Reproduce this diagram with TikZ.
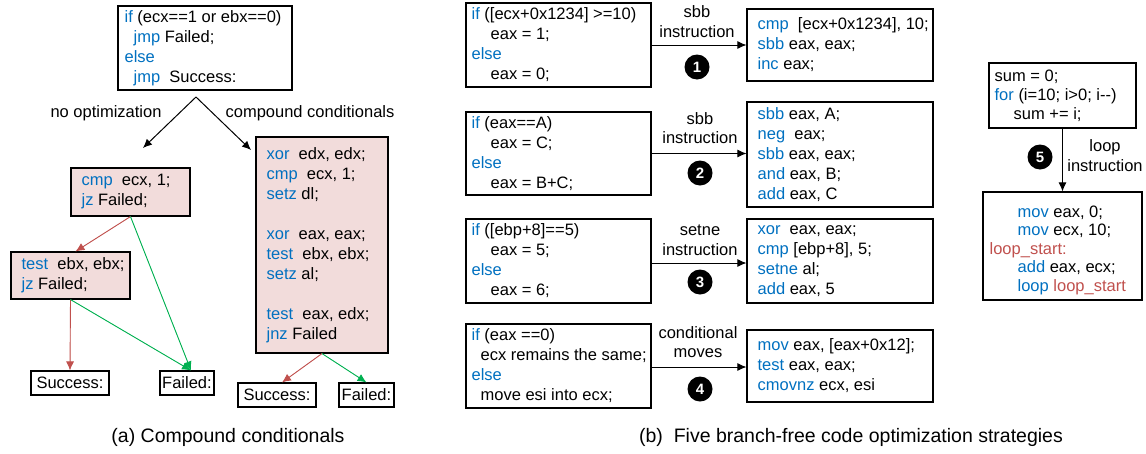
\documentclass[tikz,border=0pt]{standalone}
\usepackage{fontspec}
\setmainfont{Liberation Sans}
\usetikzlibrary{arrows.meta}
\definecolor{kwc}{RGB}{0,112,192}
\definecolor{lblc}{RGB}{192,80,77}
\definecolor{grnc}{RGB}{0,176,80}
\definecolor{pinkc}{RGB}{242,220,219}
\newcommand\kw[1]{\textcolor{kwc}{#1}}
\newcommand\lb[1]{\textcolor{lblc}{#1}}
\begin{document}
\begin{tikzpicture}[x=1pt,y=-1pt,
  box/.style={draw, line width=1.1pt, inner sep=0pt},
  pbox/.style={box, fill=pinkc},
  code/.style={inner sep=0pt, align=left, font=\fontsize{16.5}{20}\selectfont},
  lab/.style={inner sep=0pt, align=center, font=\fontsize{16.5}{19.5}\selectfont},
  num/.style={circle, fill=black, text=white, minimum size=25pt, inner sep=0pt, font=\fontsize{15}{15}\selectfont\bfseries},
  arr/.style={-{Latex[length=9pt,width=8pt]}, line width=1pt},
  rarr/.style={-{Latex[length=9pt,width=8pt]}, draw=lblc, fill=lblc, line width=0.9pt},
  garr/.style={-{Latex[length=9pt,width=8pt]}, draw=grnc, fill=grnc, line width=0.9pt},
  captxt/.style={inner sep=0pt, font=\fontsize{19.5}{22}\selectfont}
]
\useasboundingbox (0,0) rectangle (1146,453);

% ---------- (a) ----------
\node[box, minimum width=174pt, minimum height=84pt] (top) at (205,48) {};
\node[code, anchor=west] (topt) at ([xshift=7pt]top.west) {\kw{if} (ecx==1 or ebx==0)\\\hspace*{9pt}\kw{jmp} Failed;\\\kw{else}\\\hspace*{9pt}\kw{jmp}~~Success:};

\coordinate (apex) at (196,97);
\coordinate (nl) at (143,148);
\coordinate (cl) at (251,150);
\draw[arr] (apex) -- (nl);
\draw[arr] (apex) -- (cl);
\node[lab] (lno) at (106,113) {no optimization};
\node[lab] (lcc) at (310,113) {compound conditionals};

\node[pbox, minimum width=119pt, minimum height=48pt] (cmp) at (130.5,192) {};
\node[code, anchor=west] (cmpt) at ([xshift=11pt]cmp.west) {\kw{cmp}~~ecx, 1;\\\kw{jz} Failed;};

\node[pbox, minimum width=119pt, minimum height=47pt] (test) at (70.5,275.5) {};
\node[code, anchor=west] (testt) at ([xshift=11pt]test.west) {\kw{test}~~ebx, ebx;\\\kw{jz} Failed;};

\node[pbox, minimum width=132pt, minimum height=216pt] (big) at (322,245) {};
\node[code, anchor=west] (bigt) at ([xshift=11pt]big.west) {\kw{xor}~~edx, edx;\\\kw{cmp}~~ecx, 1;\\\kw{setz} dl;\\[20pt]\kw{xor}~~eax, eax;\\\kw{test}~~ebx, ebx;\\\kw{setz} al;\\[20pt]\kw{test}~~eax, edx;\\\kw{jnz} Failed};

\node[box, code, minimum width=78pt, minimum height=24pt] (s1) at (70,383) {Success:};
\node[box, code, minimum width=54pt, minimum height=24pt] (f1) at (187,383) {Failed:};
\node[box, code, minimum width=78pt, minimum height=24pt] (s2) at (277,395) {Success:};
\node[box, code, minimum width=55pt, minimum height=24pt] (f2) at (366.5,395) {Failed:};

\draw[rarr] (cmp.south) -- ([xshift=5pt]test.north);
\draw[garr] (cmp.south) -- ([xshift=4pt]f1.north);
\draw[rarr] (test.south) -- (s1.north);
\draw[garr] (test.south) -- ([xshift=4pt]f1.north);
\draw[rarr] (big.south) -- ([xshift=5pt]s2.north);
\draw[garr] (big.south) -- (f2.north);

\node[captxt] (capa) at (228,437) {(a) Compound conditionals};

% ---------- (b) ----------
\node[box, minimum width=185pt, minimum height=84pt] (b1l) at (558.5,45) {};
\node[code, anchor=west] (b1lt) at ([xshift=6pt]b1l.west) {\kw{if} ([ecx+0x1234] >=10)\\\hspace*{19pt}eax = 1;\\\kw{else}\\\hspace*{19pt}eax = 0;};
\node[box, minimum width=186pt, minimum height=72pt] (b1r) at (840,45) {};
\node[code, anchor=west] (b1rt) at ([xshift=11pt]b1r.west) {\kw{cmp}~~[ecx+0x1234], 10;\\\kw{sbb} eax, eax;\\\kw{inc} eax;};

\node[box, minimum width=185pt, minimum height=83pt] (b2l) at (558.5,153.5) {};
\node[code, anchor=west] (b2lt) at ([xshift=6pt]b2l.west) {\kw{if} (eax==A)\\\hspace*{19pt}eax = C;\\\kw{else}\\\hspace*{19pt}eax = B+C;};
\node[box, minimum width=186pt, minimum height=105pt] (b2r) at (840,154.5) {};
\node[code, anchor=west] (b2rt) at ([xshift=11pt]b2r.west) {\kw{sbb} eax, A;\\\kw{neg}~~eax;\\\kw{sbb} eax, eax;\\\kw{and} eax, B;\\\kw{add} eax, C};

\node[box, minimum width=185pt, minimum height=84pt] (b3l) at (558.5,261) {};
\node[code, anchor=west] (b3lt) at ([xshift=6pt]b3l.west) {\kw{if} ([ebp+8]==5)\\\hspace*{19pt}eax = 5;\\\kw{else}\\\hspace*{19pt}eax = 6;};
\node[box, minimum width=186pt, minimum height=84pt] (b3r) at (840,261) {};
\node[code, anchor=west] (b3rt) at ([xshift=11pt]b3r.west) {\kw{xor}~~eax, eax;\\\kw{cmp} [ebp+8], 5;\\\kw{setne} al;\\\kw{add} eax, 5};

\node[box, minimum width=185pt, minimum height=84pt] (b4l) at (558.5,366) {};
\node[code, anchor=west] (b4lt) at ([xshift=6pt]b4l.west) {\kw{if} (eax ==0)\\\hspace*{9pt}ecx remains the same;\\\kw{else}\\\hspace*{9pt}move esi into ecx;};
\node[box, minimum width=186pt, minimum height=72pt] (b4r) at (840,366) {};
\node[code, anchor=west] (b4rt) at ([xshift=11pt]b4r.west) {\kw{mov} eax, [eax+0x12];\\\kw{test} eax, eax;\\\kw{cmovnz} ecx, esi};

\draw[arr] (b1l.east) -- (b1l.east -| b1r.west);
\draw[arr] (b2l.east) -- (b2l.east -| b2r.west);
\draw[arr] ([yshift=-2pt]b3l.east) -- ([yshift=-2pt]b3l.east -| b3r.west);
\draw[arr] ([yshift=-1pt]b4l.east) -- ([yshift=-1pt]b4l.east -| b4r.west);

\node[lab] (l1) at (697,21.5) {sbb\\instruction};
\node[num] (n1) at (697,67) {1};
\node[lab] (l2) at (700,128) {sbb\\instruction};
\node[num] (n2) at (700,173) {2};
\node[lab] (l3) at (700,240) {setne\\instruction};
\node[num] (n3) at (700,282) {3};
\node[lab] (l4) at (698,342) {conditional\\moves};
\node[num] (n4) at (700,389) {4};

\node[box, minimum width=147pt, minimum height=65pt] (b5t) at (1062.5,95.5) {};
\node[code, anchor=west, font=\fontsize{16.5}{19}\selectfont] (b5tt) at ([xshift=6pt]b5t.west) {sum = 0;\\\kw{for} (i=10; i>0; i-{}-)\\\hspace*{19pt}sum += i;};
\node[box, minimum width=159pt, minimum height=108pt] (b5b) at (1062.5,246) {};
\node[code, anchor=west, font=\fontsize{16.5}{18.5}\selectfont] (b5bt) at ([xshift=7pt,yshift=-4pt]b5b.west) {\hspace*{28pt}\kw{mov} eax, 0;\\\hspace*{28pt}\kw{mov} ecx, 10;\\\lb{loop\_start:}\\\hspace*{28pt}\kw{add} eax, ecx;\\\hspace*{28pt}\kw{loop} \lb{loop\_start}};
\draw[arr] (b5t.south) -- (b5b.north);
\node[num] (n5) at (1040,157) {5};
\node[lab] (l5) at (1105,155.5) {loop\\instruction};

\node[captxt] (capb) at (851,437) {(b)\ \ Five branch-free code optimization strategies};
\end{tikzpicture}
\end{document}
